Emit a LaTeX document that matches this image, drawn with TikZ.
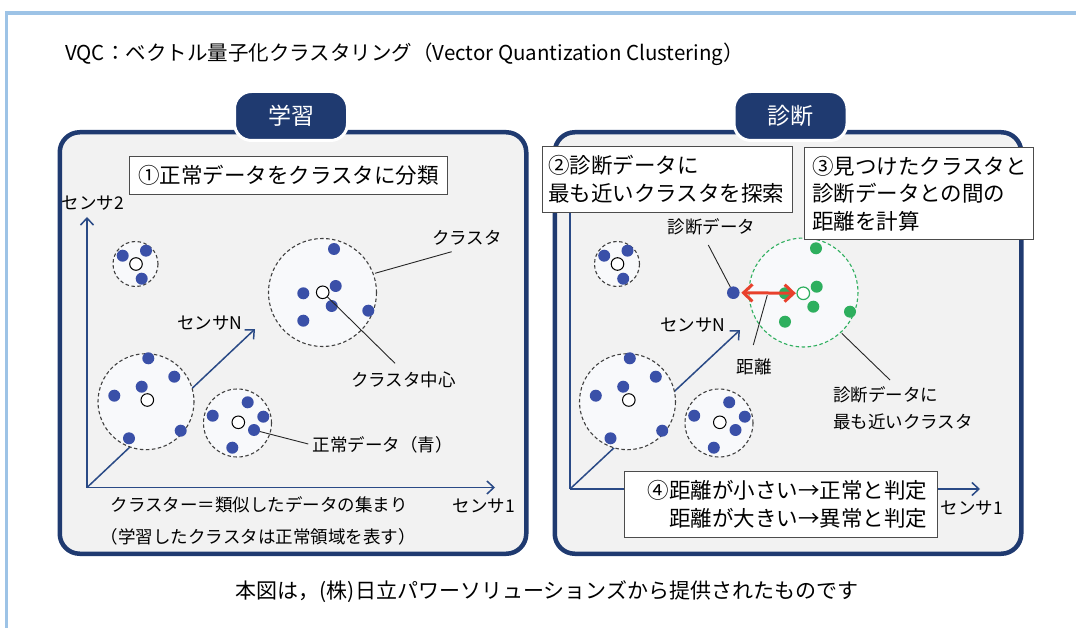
\documentclass[tikz,border=0pt]{standalone}
\usepackage{fontspec}
\setmainfont{Noto Sans CJK JP}
\usetikzlibrary{arrows.meta}
\definecolor{navy}{HTML}{1F3A70}
\definecolor{frameblue}{HTML}{9DC3E6}
\definecolor{panelbg}{HTML}{F2F2F2}
\definecolor{clfill}{HTML}{F8F9FB}
\definecolor{dotblue}{HTML}{3A50A8}
\definecolor{dotgreen}{HTML}{2EAF5E}
\definecolor{arrowred}{HTML}{E8412C}
\definecolor{axisblue}{HTML}{2A4A86}
\newcommand{\sharedclusters}{%
  % small top-left cluster
  \draw[cluster] (135.5,264) circle[radius=22.5];
  \foreach \p in {(122.7,255.7),(146,250.7),(141.7,278.7)} \fill[dotblue] \p circle[radius=6];
  \draw[ctr] (136,264) circle[radius=6.3];
  % big bottom-left cluster
  \draw[cluster] (146,401.7) circle[radius=48];
  \foreach \p in {(148.3,358.3),(174.3,376.7),(141.7,386.7),(114.3,395.7),(180.7,430.7),(129,438.3)} \fill[dotblue] \p circle[radius=6];
  \draw[ctr] (147.3,400) circle[radius=6.3];
  % small bottom-middle cluster
  \draw[cluster] (237.5,423) circle[radius=34];
  \foreach \p in {(247.7,402.3),(212.7,415.7),(263.3,416.7),(254,430),(232.3,447.7)} \fill[dotblue] \p circle[radius=6];
  \draw[ctr] (238.3,422.3) circle[radius=6.3];
}
\begin{document}
\begin{tikzpicture}[x=1pt,y=-1pt,
  panel/.style={draw=navy, line width=4.5pt, fill=panelbg, rounded corners=20pt, anchor=north west, inner sep=0pt, minimum width=466.5pt, minimum height=421.5pt},
  tab/.style={draw=white, line width=3pt, fill=navy, rounded corners=17pt, minimum width=113pt, minimum height=49pt, text=white, font=\fontsize{23}{23}\selectfont, inner sep=0pt},
  textbox/.style={draw=black!70, line width=0.8pt, fill=white, inner sep=0pt, font=\fontsize{21.5}{27.5}\selectfont},
  axis/.style={draw=axisblue, line width=1.5pt, -{Straight Barb[length=7pt,width=13pt]}},
  cluster/.style={draw=black!75, line width=1.1pt, dash pattern=on 3.5pt off 2.5pt, fill=clfill},
  gcluster/.style={draw=dotgreen, line width=1.1pt, dash pattern=on 3.5pt off 2.5pt, fill=clfill},
  ctr/.style={draw=black, line width=1pt, fill=white},
  leader/.style={draw=black!85, line width=0.9pt},
  lbl/.style={font=\fontsize{17.5}{26.7}\selectfont, inner sep=0pt},
  redarrow/.style={draw=arrowred, line width=3pt, {Straight Barb[length=9pt,width=17pt]}-{Straight Barb[length=9pt,width=17pt]}}
]
\useasboundingbox (0,0) rectangle (1076,628);
\fill[white] (0,0) rectangle (1076,628);
% outer frame
\draw[frameblue, line width=3.3pt] (6.5,628) -- (6.5,13) -- (1076,13);
% title
\node[anchor=west, inner sep=0pt, font=\fontsize{20.5}{20.5}\selectfont] (title) at (65,54) {VQC：ベクトル量子化クラスタリング（Vector Quantization Clustering）};

%================ LEFT PANEL ================
\node[panel] (lpanel) at (57.5,130) {};
\coordinate (oL) at (87,487.5);
\coordinate (yL) at (87,217);
\coordinate (xL) at (495,487.5);
\coordinate (nL) at (255,329);
\draw[axis] (oL) -- (yL);
\draw[axis] (oL) -- (xL);
\draw[axis] (oL) -- (nL);
\node[lbl] (s2L) at (93,203.5) {センサ2};
\node[lbl] (s1L) at (484,506) {センサ1};
\node[lbl] (snL) at (210,323) {センサN};
\sharedclusters
% big top-right cluster
\draw[cluster] (322.5,292.5) circle[radius=54];
\foreach \p in {(334,249),(335.7,286),(303.3,293.3),(331.7,306),(368.3,310.7),(303.3,320.7)} \fill[dotblue] \p circle[radius=6];
\draw[ctr] (322.7,292.3) circle[radius=6.3];
\coordinate (c2ctr) at (322.7,292.3);
\coordinate (c2edge) at (375,273.3);
\coordinate (ndot) at (254,430);
% labels + leaders
\node[lbl] (lblCl) at (467,238) {クラスタ};
\coordinate (lblClEnd) at (451.7,251.7);
\draw[leader] (lblClEnd) -- (c2edge);
\node[lbl] (lblCtr) at (403.5,380) {クラスタ中心};
\coordinate (lblCtrEnd) at (395,363.3);
\draw[leader, shorten <=6.3pt] (c2ctr) -- (lblCtrEnd);
\node[lbl] (lblNorm) at (382.5,445) {正常データ（青）};
\coordinate (lblNormEnd) at (308.3,444);
\draw[leader, shorten <=6pt] (ndot) -- (lblNormEnd);
\node[lbl] (capL1) at (259.2,505) {クラスター＝類似したデータの集まり};
\node[lbl] (capL2) at (258.3,537) {（学習したクラスタは正常領域を表す）};
% box 1
\node[textbox, minimum width=318pt, minimum height=38pt] (b1) at (288.3,175) {①正常データをクラスタに分類};
% tab
\node[tab] (tabL) at (291,116) {学習};

%================ RIGHT PANEL ================
\node[panel] (rpanel) at (552.5,130) {};
\coordinate (oR) at (570,489);
\coordinate (yR) at (570,190);
\coordinate (xR) at (980,489);
\coordinate (nR) at (740,330);
\draw[axis] (oR) -- (yR);
\draw[axis] (oR) -- (xR);
\draw[axis] (oR) -- (nR);
\node[lbl] (s1R) at (972,508) {センサ1};
\node[lbl] (snR) at (693,325) {センサN};
\begin{scope}[xshift=481.5pt]
\sharedclusters
\end{scope}
% green cluster
\draw[gcluster] (803.5,292.5) circle[radius=54.5];
\foreach \p in {(816,248.3),(816.7,286.7),(785,293.3),(813.3,306.7),(850,311.7),(785,321.7)} \fill[dotgreen] \p circle[radius=6];
\draw[draw=dotgreen, line width=1.2pt, fill=white] (803.3,293.3) circle[radius=6.3];
\coordinate (gctr) at (803.3,293.3);
\coordinate (gedge) at (841.7,333.3);
% diagnostic data point
\fill[dotblue] (733.3,292.7) circle[radius=6.3];
\coordinate (dd) at (733.3,292.7);
% red distance arrow
\draw[redarrow, shorten <=8pt, shorten >=7.5pt] (dd) -- (gctr);
\coordinate (distpt) at (767.3,295);
% labels + leaders
\node[lbl] (lblDD) at (711.7,226.7) {診断データ};
\coordinate (lblDDEnd) at (708.3,245);
\draw[leader, shorten >=6.3pt] (lblDDEnd) -- (dd);
\node[lbl] (lblDist) at (754,366.7) {距離};
\coordinate (lblDistEnd) at (753.3,345);
\draw[leader] (lblDistEnd) -- (distpt);
\node[lbl, anchor=west, align=left] (lblNear) at (833,408.3) {診断データに\\最も近いクラスタ};
\coordinate (lblNearEnd) at (890,380);
\draw[leader] (lblNearEnd) -- (gedge);
% boxes
\node[textbox, anchor=north west, minimum width=250pt, minimum height=65.7pt, text width=238pt, align=left] (b2) at (541.7,146) {②診断データに\\最も近いクラスタを探索};
\node[textbox, anchor=north west, minimum width=229.3pt, minimum height=92.6pt, text width=214pt, align=left] (b3) at (804,146.7) {③見つけたクラスタと\\診断データとの間の\\距離を計算};
\node[textbox, anchor=north west, minimum width=312.4pt, minimum height=66.3pt, text width=293pt, align=right] (b4) at (624.3,471) {④距離が小さい→正常と判定\\距離が大きい→異常と判定};
% tab
\node[tab] (tabR) at (790.5,116) {診断};

% footer
\node[inner sep=0pt, font=\fontsize{21}{21}\selectfont] (footer) at (547,592) {本図は，(株)日立パワーソリューションズから提供されたものです};
\end{tikzpicture}
\end{document}
